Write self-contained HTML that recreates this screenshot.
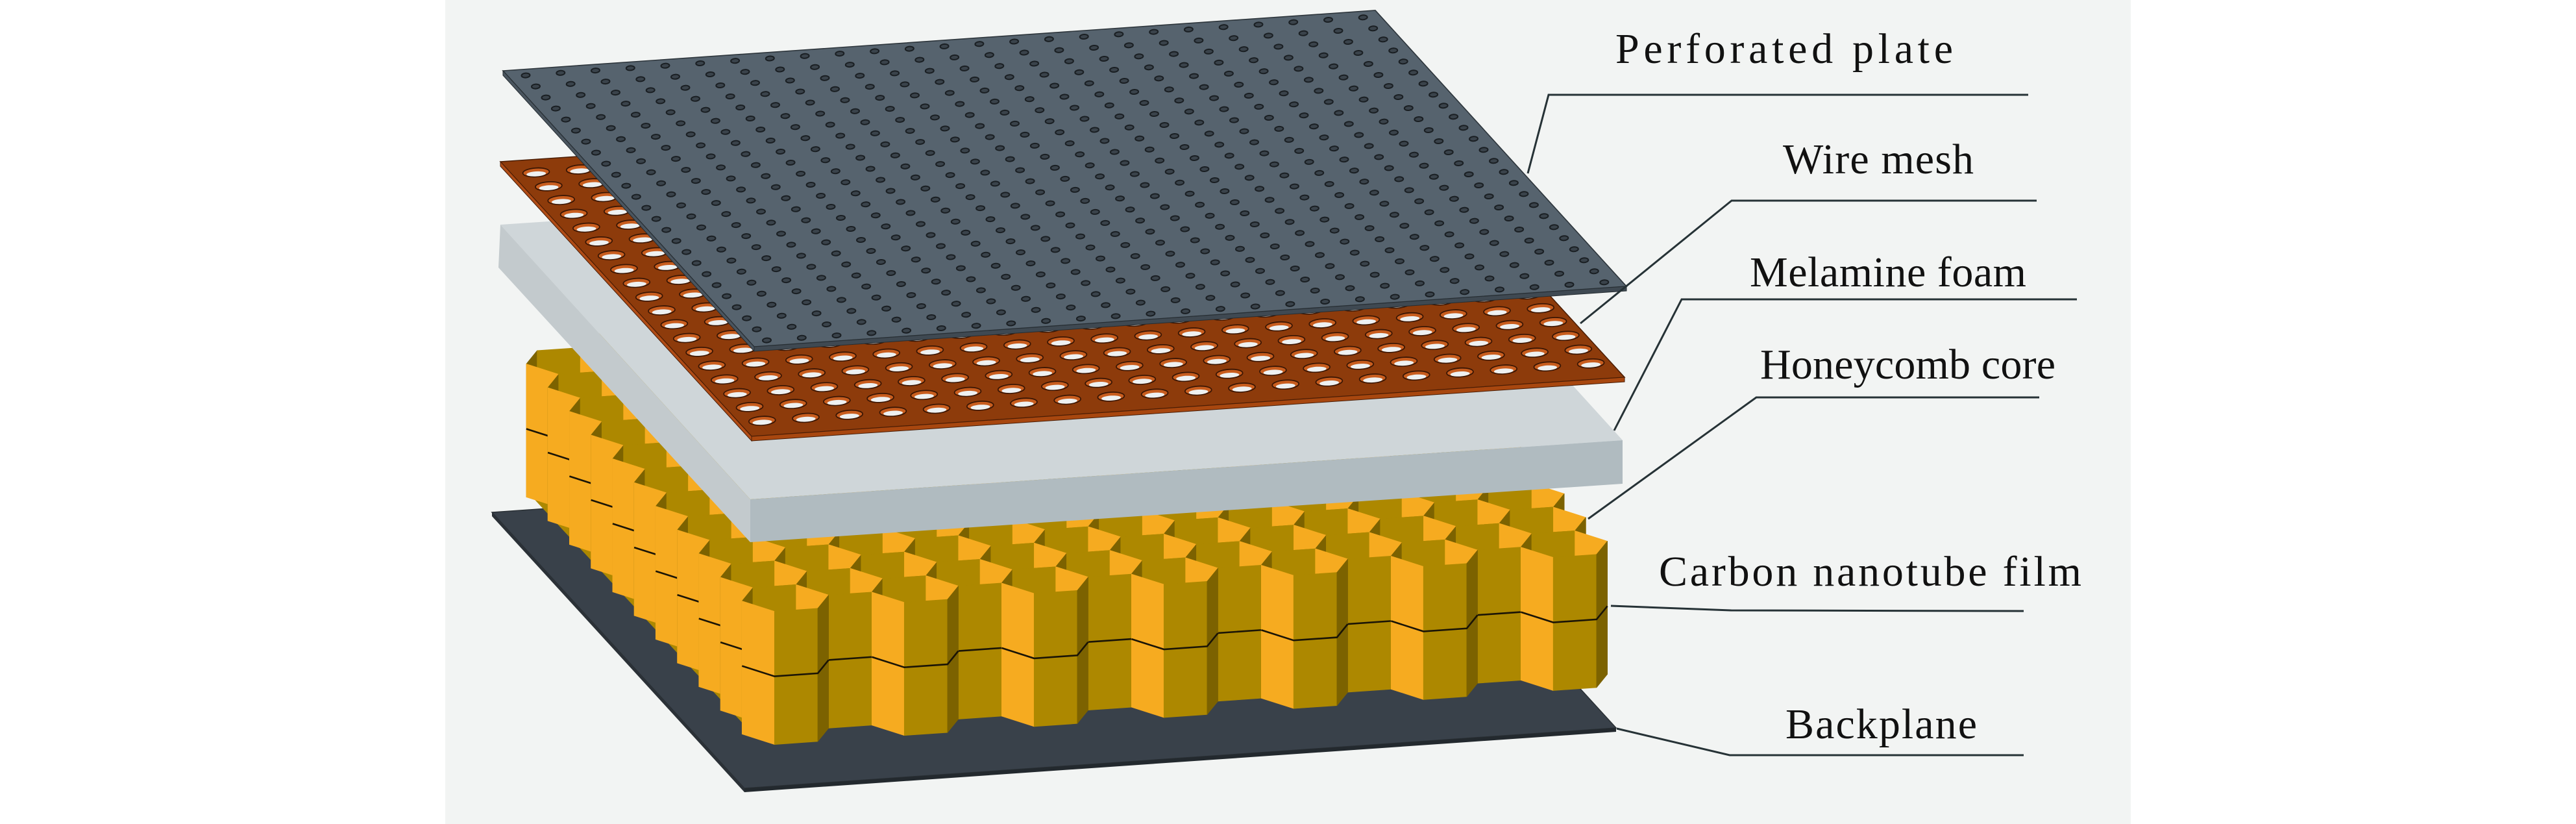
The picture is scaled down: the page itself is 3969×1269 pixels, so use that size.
<!DOCTYPE html>
<html>
<head>
<meta charset="utf-8">
<style>
html,body{margin:0;padding:0;background:#ffffff;width:3969px;height:1269px;overflow:hidden;}
svg{display:block;}
</style>
</head>
<body>
<svg id="s" xmlns="http://www.w3.org/2000/svg" width="3969" height="1269" viewBox="0 0 3969 1269">
  <rect x="0" y="0" width="3969" height="1269" fill="#ffffff"/>
  <rect x="686" y="0" width="2597" height="1269" fill="#f2f4f3"/>

  <!-- Backplane -->
  <polygon points="758,789 2101,696 2490,1121 1147,1214" fill="#39414a" stroke="#2a3035" stroke-width="1.5"/>
  <polygon points="758,789 1147,1214 1147,1220 758,795" fill="#2b3137"/>
  <polygon points="1147,1214 2490,1121 2490,1127 1147,1220" fill="#23292e"/>

  <!-- Honeycomb (fallback silhouette + generated cells) -->
  <g id="hc">
    <polygon points="815,570 1300,540 2380,790 2470,850 2470,1030 1200,1122 1150,1120 815,760" fill="#ad8800"/>
  </g>

  <!-- Melamine foam -->
  <polygon points="771,346 2115,255 2500,678 1156,769" fill="#cfd6d9"/>
  <polygon points="771,346 1156,769 1156,835 768,412" fill="#c3cacd"/>
  <polygon points="1156,769 2500,678 2500,745 1156,835" fill="#b0bbc0"/>

  <!-- Wire mesh -->
  <polygon points="771,249 2116,158 2503,581 1158,672" fill="#8d3b0b" stroke="#4a1d05" stroke-width="1.5"/>
  <polygon points="771,249 1158,672 1158,679 771,256" fill="#b04c16" stroke="#4a1d05" stroke-width="1"/>
  <polygon points="1158,672 2503,581 2503,588 1158,679" fill="#a8470f" stroke="#4a1d05" stroke-width="1"/>
  <g id="wmh"></g>

  <!-- Perforated plate -->
  <polygon points="775,109 2119,16 2506,441 1162,534" fill="#56636e" stroke="#2d353b" stroke-width="1.6"/>
  <polygon points="775,109 1162,534 1162,541 775,116" fill="#4a555f" stroke="#262d32" stroke-width="1"/>
  <polygon points="1162,534 2506,441 2506,448 1162,541" fill="#3f4952" stroke="#262d32" stroke-width="1"/>
  <g id="pph"></g>

  <!-- Leader lines -->
  <g fill="none" stroke="#263236" stroke-width="3" stroke-linejoin="miter">
    <polyline points="2354,267 2386,146 3125,146"/>
    <polyline points="2435,498 2668,309 3138,309"/>
    <polyline points="2487,663 2591,461 3200,461"/>
    <polyline points="2447,799 2706,612 3142,612"/>
    <polyline points="2482,933 2667,940 3118,941"/>
    <polyline points="2491,1122 2665,1163 3118,1163"/>
  </g>

  <!-- Labels -->
  <g font-family="'Liberation Serif', 'DejaVu Serif', serif" font-size="66" fill="#111111">
    <text x="2489" y="97" textLength="520" lengthAdjust="spacing">Perforated plate</text>
    <text x="2747" y="267" textLength="294" lengthAdjust="spacing">Wire mesh</text>
    <text x="2696" y="441" textLength="426" lengthAdjust="spacing">Melamine foam</text>
    <text x="2712" y="583" textLength="455" lengthAdjust="spacing">Honeycomb core</text>
    <text x="2556" y="902" textLength="651" lengthAdjust="spacing">Carbon nanotube film</text>
    <text x="2751" y="1137" textLength="295" lengthAdjust="spacing">Backplane</text>
  </g>
</svg>

<script>
(function(){
  var NS='http://www.w3.org/2000/svg';
  function mk(tag,at,par){var e=document.createElementNS(NS,tag);for(var k in at)e.setAttribute(k,at[k]);par.appendChild(e);return e;}
  var U=[1344,-93],V=[387,425];
  function P(o,a,b){return [o[0]+a*U[0]+b*V[0], o[1]+a*U[1]+b*V[1]];}
  function f(v){return v.toFixed(1);}

  /* ---------- Honeycomb ---------- */
  var gh=document.getElementById('hc');
  var s=0.0496, r3=Math.sqrt(3);
  var su=[U[0]*s,U[1]*s], sv=[V[0]*s,V[1]*s];
  var hv=[[1,0],[0.5,r3/2],[-0.5,r3/2],[-1,0],[-0.5,-r3/2],[0.5,-r3/2]].map(function(p){
    return [p[0]*su[0]+p[1]*sv[0], p[0]*su[1]+p[1]*sv[1]];
  });
  var O=[1210,1126], H=205, ZS=105;
  var LIGHT='#f6ab20', DARK='#ad8800', DARKER='#7c6200';
  var cells=[];
  for(var i=0;i<13;i++){
    for(var k=0;k<11;k++){
      var kk=k-10-(i%2)*0.5;
      var a=i*1.5, b=kk*r3;
      cells.push({x:O[0]+a*su[0]+b*sv[0], y:O[1]+a*su[1]+b*sv[1], d:-0.288*a+b});
    }
  }
  cells.sort(function(p,q){return p.d-q.d;});
  function quad(c,j1,j2,col){
    var x1=c.x+hv[j1][0], y1=c.y+hv[j1][1], x2=c.x+hv[j2][0], y2=c.y+hv[j2][1];
    mk('polygon',{points:[f(x1),f(y1-H),f(x2),f(y2-H),f(x2),f(y2),f(x1),f(y1)].join(' '),
      fill:col,stroke:col,'stroke-width':0.7,'stroke-linejoin':'round'},gh);
  }
  cells.forEach(function(c){
    quad(c,3,4,DARKER); quad(c,4,5,DARK); quad(c,5,0,LIGHT);
    quad(c,3,2,LIGHT);  quad(c,2,1,DARK); quad(c,1,0,DARKER);
    var pts=[3,2,1,0].map(function(j){return f(c.x+hv[j][0])+','+f(c.y+hv[j][1]-ZS);}).join(' ');
    mk('polyline',{points:pts,fill:'none',stroke:'#1a1406','stroke-width':2.6},gh);
  });

  /* ---------- Wire mesh holes ---------- */
  var gw=document.getElementById('wmh');
  var Lw=[771,249];
  for(var i2=0;i2<20;i2++){
    for(var j2=0;j2<19;j2++){
      var c=P(Lw,0.028+0.05*i2,0.045+0.05*j2);
      var g=mk('g',{transform:'rotate(-3.5 '+f(c[0])+' '+f(c[1])+')'},gw);
      mk('ellipse',{cx:f(c[0]),cy:f(c[1]),rx:20.5,ry:6.8,fill:'#c85d1e',stroke:'#3a1604','stroke-width':1.8},g);
      mk('ellipse',{cx:f(c[0]),cy:f(c[1]+2.3),rx:15,ry:3.8,fill:'#eef1f2'},g);
    }
  }

  /* ---------- Perforated plate holes ---------- */
  var gp=document.getElementById('pph');
  var Lp=[775,109];
  for(var i3=0;i3<25;i3++){
    for(var j3=0;j3<25;j3++){
      var c2=P(Lp,0.02+0.04*i3,0.021+0.04*j3);
      mk('ellipse',{cx:f(c2[0]),cy:f(c2[1]),rx:6.5,ry:3.5,fill:'#3a434b',stroke:'#1a1f23','stroke-width':2,
        transform:'rotate(-4 '+f(c2[0])+' '+f(c2[1])+')'},gp);
    }
  }
})();
</script>
</body>
</html>
